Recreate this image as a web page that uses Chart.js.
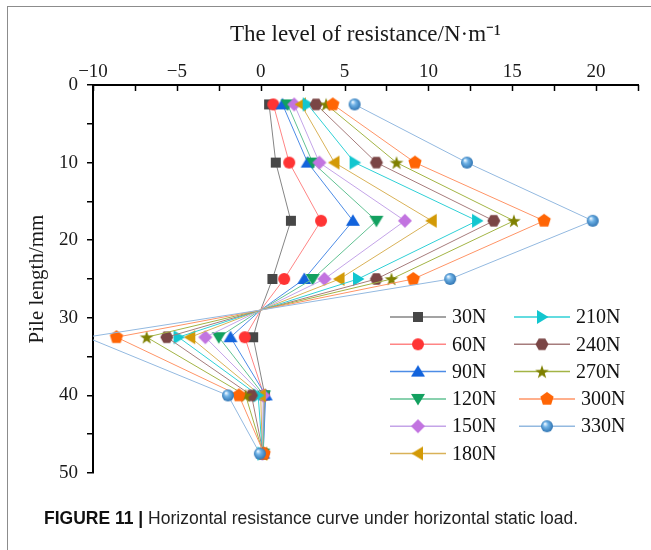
<!DOCTYPE html>
<html lang="en">
<head>
<meta charset="UTF-8">
<title>Horizontal resistance curve</title>
<style>
  body { margin: 0; background: #fff; overflow: hidden; }
  #frame {
    position: absolute; left: 7px; top: 6px; width: 700px; height: 600px;
    border-left: 1px solid #8c8c8c; border-top: 1px solid #8c8c8c;
  }
  #wrap { position: absolute; left: 0; top: 0; width: 651px; height: 550px; }
  #caption {
    position: absolute; left: 44px; top: 508px; white-space: nowrap;
    font-family: "Liberation Sans", Arial, sans-serif; font-size: 17.5px; color: #222;
  }
  #caption b { color: #111; }
</style>
<script src="https://cdn.jsdelivr.net/npm/chart.js"></script>
</head>
<body>
<div id="frame"></div>
<div id="wrap"><canvas id="resistChart"></canvas></div>
<div id="caption"><b>FIGURE 11 |</b> Horizontal resistance curve under horizontal static load.</div>

<script>
// depth along the pile (mm) and the load cases
const depths = [2.5, 10, 17.5, 25, 29, 32.5, 40, 47.5];
const loads = ['30N', '60N', '90N', '120N', '150N', '180N', '210N', '240N', '270N', '300N', '330N'];

// horizontal resistance (N/m) at each depth, one array per load case
const r30  = [0.5, 0.9, 1.8, 0.7, 0, -0.45, 0.25, 0.15];
const r60  = [0.75, 1.7, 3.6, 1.4, 0, -0.95, 0.2, 0.15];
const r90  = [1.3, 2.8, 5.5, 2.6, 0, -1.8, 0.3, 0.15];
const r120 = [1.6, 3.1, 6.9, 3.1, 0, -2.5, 0.2, 0.15];
const r150 = [2.0, 3.5, 8.6, 3.8, 0, -3.3, 0.15, 0.1];
const r180 = [2.4, 4.4, 10.2, 4.7, 0, -4.2, 0.0, 0.1];
const r210 = [2.8, 5.6, 12.9, 5.8, 0, -4.9, -0.15, 0.1];
const r240 = [3.3, 6.9, 13.9, 6.9, 0, -5.6, -0.55, 0.15];
const r270 = [3.9, 8.1, 15.1, 7.8, 0, -6.8, -0.9, 0.15];
const r300 = [4.3, 9.2, 16.9, 9.1, 0, -8.6, -1.3, 0.2];
const r330 = [5.6, 12.3, 19.8, 11.3, 0, -10.4, -1.95, -0.05];
const series = [r30, r60, r90, r120, r150, r180, r210, r240, r270, r300, r330];

const xTicks = [-10, -5, 0, 5, 10, 15, 20];
const yTicks = [0, 10, 20, 30, 40, 50];

const lineColors = ['#858585', '#ff8585', '#4d8ce6', '#62c293', '#c4a4e8', '#d9b258',
                    '#2fd0d6', '#a67c7c', '#a3b445', '#ff9466', '#93b9e0'];
const markFills  = ['#474747', '#ff3434', '#1263dc', '#12a05f', '#c274e0', '#d39a06',
                    '#12c6cf', '#7a4545', '#7f8000', '#ff6505', '#3f8fd2'];
const shapes = ['square', 'circle', 'up', 'down', 'diamond', 'left',
                'right', 'hexagon', 'star', 'pentagon', 'sphere'];

// small canvases used as point styles
function marker(shape, fill) {
  const c = document.createElement('canvas');
  c.width = 16; c.height = 16;
  const g = c.getContext('2d');
  const m = 8;
  const poly = (pts) => {
    g.beginPath();
    pts.forEach((p, i) => i ? g.lineTo(p[0], p[1]) : g.moveTo(p[0], p[1]));
    g.closePath();
  };
  const ngon = (n, r, rot) => {
    const pts = [];
    for (let i = 0; i < n; i++) {
      const a = rot + i * 2 * Math.PI / n;
      pts.push([m + r * Math.cos(a), m + r * Math.sin(a)]);
    }
    poly(pts);
  };
  g.fillStyle = fill;
  switch (shape) {
    case 'square': g.beginPath(); g.rect(m - 5, m - 5, 10, 10); break;
    case 'circle': g.beginPath(); g.arc(m, m, 6, 0, 2 * Math.PI); break;
    case 'up': poly([[m, m - 6.5], [m + 7, m + 5], [m - 7, m + 5]]); break;
    case 'down': poly([[m, m + 6.5], [m + 7, m - 5], [m - 7, m - 5]]); break;
    case 'left': poly([[m - 6.5, m], [m + 5, m - 7], [m + 5, m + 7]]); break;
    case 'right': poly([[m + 6.5, m], [m - 5, m - 7], [m - 5, m + 7]]); break;
    case 'diamond': ngon(4, 7, -Math.PI / 2); break;
    case 'hexagon': ngon(6, 6.5, 0); break;
    case 'pentagon': ngon(5, 7, -Math.PI / 2); break;
    case 'star': {
      const pts = [];
      for (let i = 0; i < 10; i++) {
        const r = i % 2 ? 2.8 : 7.2;
        const a = -Math.PI / 2 + i * Math.PI / 5;
        pts.push([m + r * Math.cos(a), m + 0.6 + r * Math.sin(a)]);
      }
      poly(pts);
      break;
    }
    case 'sphere': {
      const grad = g.createRadialGradient(m - 2, m - 2.5, 0.5, m, m, 6.5);
      grad.addColorStop(0, '#e6f4ff');
      grad.addColorStop(0.35, '#6fb2e6');
      grad.addColorStop(1, '#2a6fae');
      g.fillStyle = grad;
      g.beginPath(); g.arc(m, m, 6, 0, 2 * Math.PI);
      break;
    }
  }
  g.fill();
  return c;
}
const markers = shapes.map((s, i) => marker(s, markFills[i]));

// x ticks on the top axis point into the plot, with minor ticks in between
const innerTicks = {
  id: 'innerTicks',
  afterDraw(chart) {
    const { ctx, scales: { x }, chartArea } = chart;
    ctx.save();
    ctx.strokeStyle = '#000';
    ctx.lineWidth = 1.5;
    for (let v = x.min; v <= x.max + 1e-9; v += 2.5) {
      const px = Math.round(x.getPixelForValue(v)) + 0.5;
      ctx.beginPath();
      ctx.moveTo(px, chartArea.top);
      ctx.lineTo(px, chartArea.top + 6);
      ctx.stroke();
    }
    ctx.restore();
  }
};

// two-column legend in the lower right of the plot
const legendBox = {
  id: 'legendBox',
  afterDraw(chart) {
    const { ctx } = chart;
    const cols = [{ x: 390, items: [0, 1, 2, 3, 4, 5] }, { x: 514, items: [6, 7, 8, 9, 10] }];
    ctx.save();
    ctx.font = '20px "Liberation Serif", "Times New Roman", serif';
    ctx.textBaseline = 'middle';
    ctx.fillStyle = '#111';
    cols.forEach(col => {
      col.items.forEach((di, row) => {
        const ds = chart.data.datasets[di];
        const y = 317 + row * 27.3;
        const off = di >= 9 ? 5 : 0;
        ctx.strokeStyle = ds.borderColor;
        ctx.lineWidth = 1.5;
        ctx.beginPath();
        ctx.moveTo(col.x + off, y);
        ctx.lineTo(col.x + off + 56, y);
        ctx.stroke();
        const img = ds.pointStyle;
        ctx.drawImage(img, col.x + off + 28 - img.width / 2, y - img.height / 2);
        ctx.fillText(ds.label, col.x + off + 62, y + 1);
      });
    });
    ctx.restore();
  }
};

const serif = '"Liberation Serif", "Times New Roman", serif';

new Chart(document.getElementById('resistChart'), {
  type: 'scatter',
  data: {
    datasets: loads.map((name, i) => ({
      label: name,
      data: depths.map((d, k) => ({ x: series[i][k], y: d })),
      showLine: true,
      borderColor: lineColors[i],
      backgroundColor: markFills[i],
      borderWidth: 1,
      pointStyle: markers[i],
      pointRadius: ctx => depths[ctx.dataIndex] === 29 ? 0 : 6,
      pointHoverRadius: 6,
      order: loads.length - i
    }))
  },
  options: {
    responsive: true,
    maintainAspectRatio: false,
    animation: false,
    layout: { padding: { left: 0, top: 0, right: 13, bottom: 77 } },
    plugins: { legend: { display: false }, tooltip: { enabled: false } },
    scales: {
      x: {
        type: 'linear',
        position: 'top',
        min: -10,
        max: 22.5,
        afterFit: s => { s.height = 85; },
        afterBuildTicks: s => { s.ticks = xTicks.map(v => ({ value: v })); },
        grid: { display: false },
        border: { color: '#000', width: 2 },
        ticks: {
          padding: -6,
          color: '#1a1a1a',
          font: { family: serif, size: 19 },
          callback: v => v < 0 ? '\u2212' + Math.abs(v) : String(v)
        },
        title: {
          display: true,
          text: 'The level of resistance/N\u00b7m\u207b\u00b9',
          color: '#1a1a1a',
          font: { family: serif, size: 23 },
          padding: { top: 21, bottom: 0 }
        }
      },
      y: {
        type: 'linear',
        reverse: true,
        min: 0,
        max: 50,
        afterFit: s => { s.width = 93; },
        afterBuildTicks: s => {
          const t = [];
          for (let v = 0; v <= 50; v += 5) t.push({ value: v });
          s.ticks = t;
        },
        grid: { display: true, drawOnChartArea: false, drawTicks: true, tickLength: 6, color: '#000', lineWidth: 1.5 },
        border: { color: '#000', width: 2 },
        ticks: {
          padding: 9,
          color: '#1a1a1a',
          font: { family: serif, size: 19 },
          callback: v => yTicks.includes(v) ? String(v) : ''
        },
        title: {
          display: true,
          text: 'Pile length/mm',
          color: '#1a1a1a',
          font: { family: serif, size: 21 },
          padding: { top: 25, bottom: 0 }
        }
      }
    }
  },
  plugins: [innerTicks, legendBox]
});
</script>
</body>
</html>
